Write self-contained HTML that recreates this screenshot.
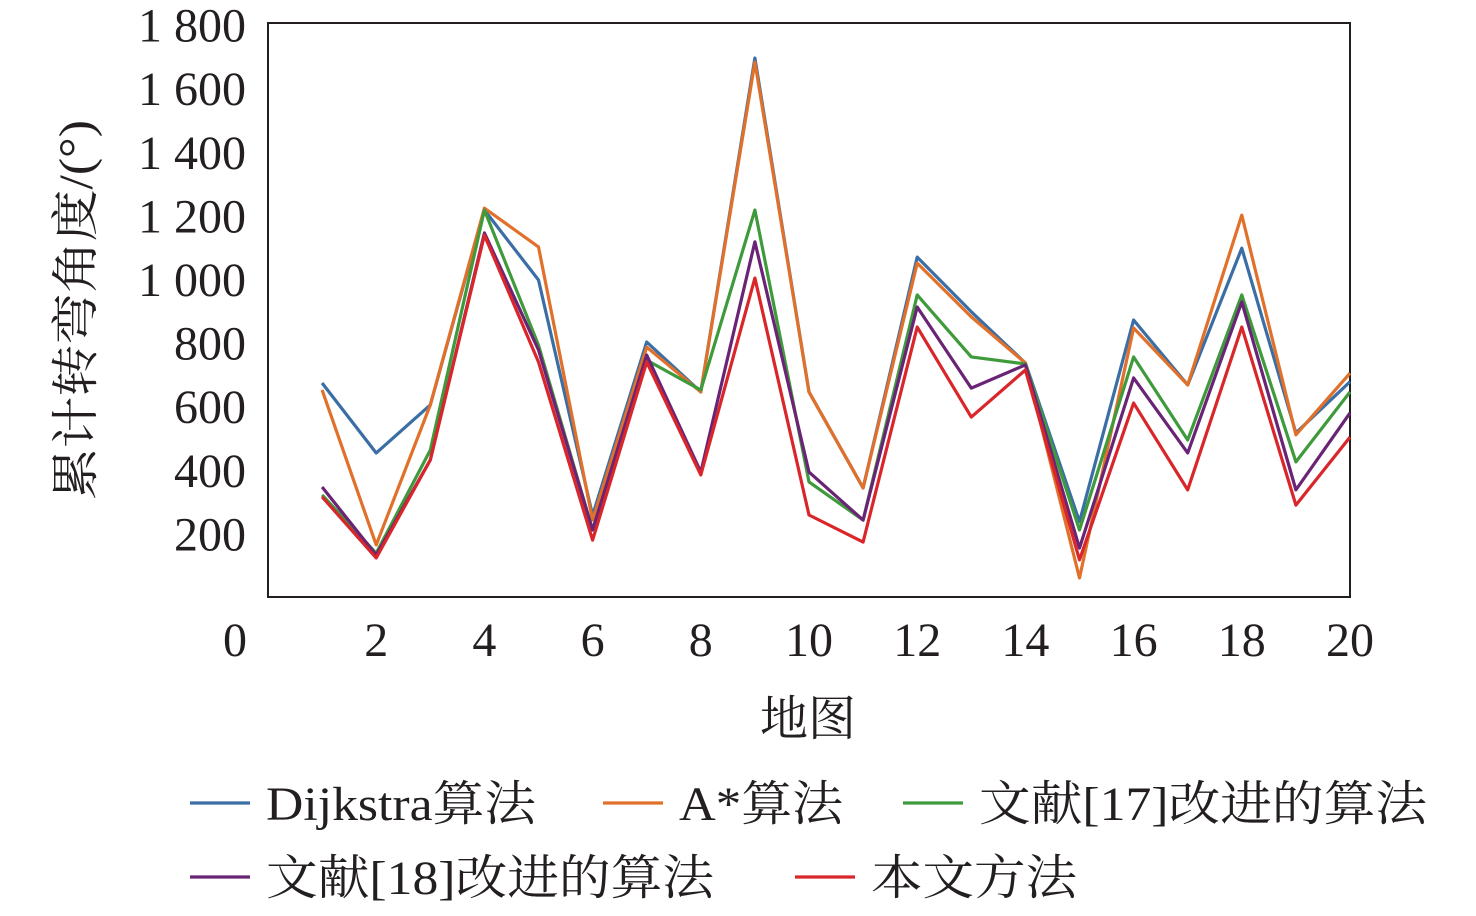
<!DOCTYPE html>
<html><head><meta charset="utf-8"><style>
body{margin:0;background:#fff}
svg text{font-family:"Liberation Serif","Noto Serif CJK SC",serif;fill:#231f20}
</style></head><body>
<svg id="s" width="1476" height="911" xmlns="http://www.w3.org/2000/svg">
<rect x="268" y="23" width="1082" height="574" fill="none" stroke="#231f20" stroke-width="2"/>
<g id="g"></g>
<text x="808" y="735" font-size="48" text-anchor="middle">地图</text>
<text transform="translate(92,310) rotate(-90)" font-size="48" text-anchor="middle" textLength="380" lengthAdjust="spacingAndGlyphs">累计转弯角度/(°)</text>
</svg>
<script>
const X=v=>268+v*54.1, Y=v=>598-v*0.318;
const s=document.getElementById('g');
let h='';
[200,400,600,800,1000,1200,1400,1600,1800].forEach(v=>{
 const t=v>=1000?(Math.floor(v/1000)+' '+String(v%1000).padStart(3,'0')):v;
 h+=`<text x="246" y="${Y(v)+16}" font-size="48" text-anchor="end" xml:space="preserve">${t}</text>`;
});
h+=`<text x="235" y="656" font-size="48" text-anchor="middle">0</text>`;
for(let v=2;v<=20;v+=2){h+=`<text x="${X(v)}" y="656" font-size="48" text-anchor="middle">${v}</text>`;}
const D=[
['#3a6ea5',[676,456,607,1220,1000,260,805,648,1698,648,346,1072,900,739,240,874,670,1100,519,680]],
['#e0702a',[654,167,607,1226,1104,245,789,648,1685,648,346,1053,884,739,63,849,670,1204,513,707]],
['#3f9a3c',[324,141,465,1220,795,214,748,654,1220,365,245,953,758,736,214,758,497,953,428,648]],
['#6a2476',[349,135,434,1148,780,214,764,396,1120,396,245,915,660,733,157,692,456,931,340,582]],
['#d9262b',[318,126,434,1141,742,182,742,387,1006,261,176,852,569,717,120,613,340,852,292,506]]];
D.forEach(([c,d])=>{h+=`<polyline fill="none" stroke="${c}" stroke-width="3.2" stroke-linejoin="round" points="${d.map((v,i)=>X(i+1)+','+Y(v)).join(' ')}"/>`;});
const L=[[190,803,0,'Dijkstra算法',270],[603,803,1,'A*算法',164],[903,803,2,'文献[17]改进的算法',448],[190,877,3,'文献[18]改进的算法',448],[795,877,4,'本文方法',206]];
L.forEach(([x,y,i,t,w])=>{h+=`<line x1="${x}" x2="${x+60}" y1="${y}" y2="${y}" stroke="${D[i][0]}" stroke-width="3.2"/>`;
 h+=`<text x="${x+76}" y="${y+17}" font-size="48" textLength="${w}" lengthAdjust="spacingAndGlyphs">${t}</text>`;});
s.innerHTML=h;
</script>
</body></html>
